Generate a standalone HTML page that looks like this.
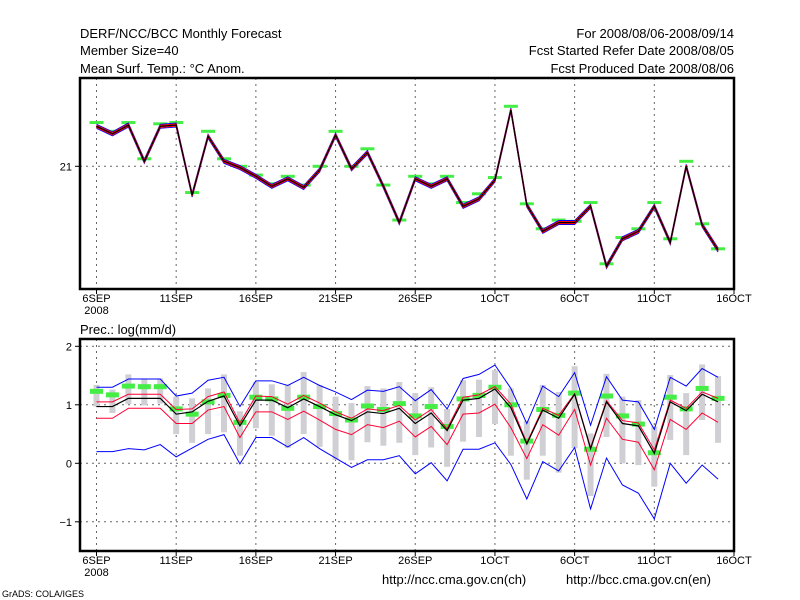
<!DOCTYPE html>
<html><head><meta charset="utf-8"><style>
body{margin:0;background:#fff;}
svg{display:block;font-family:"Liberation Sans",sans-serif;}
</style></head><body>
<svg id="chart" width="800" height="600" xmlns="http://www.w3.org/2000/svg">
<rect width="800" height="600" fill="#fff"/>
<g font-size="13" fill="#000">
<text x="80" y="38">DERF/NCC/BCC Monthly Forecast</text>
<text x="80" y="55">Member Size=40</text>
<text x="80" y="73">Mean Surf. Temp.: °C Anom.</text>
<text x="734" y="38" text-anchor="end">For 2008/08/06-2008/09/14</text>
<text x="734" y="55" text-anchor="end">Fcst Started Refer Date 2008/08/05</text>
<text x="734" y="73" text-anchor="end">Fcst Produced Date 2008/08/06</text>
<text x="80" y="334">Prec.: log(mm/d)</text>
<text x="382" y="584" font-size="13">http://ncc.cma.gov.cn(ch)</text>
<text x="566" y="584" font-size="13">http://bcc.cma.gov.cn(en)</text>
<text x="2" y="597" font-size="9">GrADS: COLA/IGES</text>
</g>
<g id="topPanel"></g>
<g id="botPanel"></g>
</svg>
<script>
const xTicks = ["6SEP","11SEP","16SEP","21SEP","26SEP","1OCT","6OCT","11OCT","16OCT"];
const tMean = [21.32,21.26,21.33,21.04,21.32,21.33,20.77,21.24,21.04,20.99,20.92,20.84,20.90,20.83,20.97,21.25,20.98,21.11,20.84,20.55,20.90,20.84,20.90,20.68,20.74,20.89,21.45,20.69,20.48,20.55,20.55,20.68,20.20,20.42,20.48,20.68,20.39,21.00,20.53,20.33];
const tObs = [21.35,21.28,21.35,21.06,21.34,21.35,20.79,21.28,21.06,21.00,20.93,20.86,20.92,20.85,21.00,21.28,21.00,21.14,20.85,20.57,20.92,20.86,20.92,20.71,20.78,20.91,21.48,20.70,20.50,20.57,20.56,20.71,20.22,20.43,20.50,20.71,20.42,21.04,20.54,20.34];
const pMean = [0.97,0.97,1.11,1.11,1.11,0.84,0.88,1.06,1.15,0.64,1.08,1.08,0.95,1.10,0.97,0.83,0.73,0.88,0.85,0.94,0.68,0.86,0.56,1.08,1.11,1.27,0.95,0.33,0.91,0.77,1.18,0.25,1.05,0.68,0.64,0.17,1.05,0.90,1.18,1.05];
const pRedHi = [1.05,1.05,1.18,1.18,1.18,0.92,0.93,1.14,1.22,0.69,1.15,1.14,1.01,1.16,1.03,0.88,0.77,0.93,0.90,0.99,0.74,0.92,0.59,1.13,1.17,1.31,1.01,0.35,0.94,0.82,1.19,0.27,1.07,0.73,0.69,0.23,1.08,0.94,1.22,1.11];
const pRedLo = [0.77,0.77,0.94,0.94,0.94,0.68,0.68,0.91,0.97,0.44,0.88,0.88,0.75,0.89,0.74,0.58,0.49,0.66,0.61,0.72,0.45,0.63,0.32,0.84,0.86,1.01,0.61,0.08,0.66,0.48,0.92,-0.03,0.77,0.41,0.36,-0.11,0.75,0.58,0.86,0.70];
const pMax = [1.30,1.30,1.44,1.44,1.44,1.15,1.20,1.42,1.47,0.97,1.41,1.41,1.33,1.47,1.33,1.22,1.09,1.25,1.23,1.31,1.07,1.26,0.93,1.45,1.52,1.68,1.28,0.68,1.32,1.14,1.55,0.65,1.48,1.08,1.05,0.58,1.47,1.32,1.62,1.47];
const pMin = [0.20,0.20,0.25,0.23,0.32,0.11,0.26,0.41,0.49,-0.01,0.44,0.44,0.28,0.44,0.25,0.09,-0.07,0.06,0.06,0.13,-0.18,0.01,-0.30,0.24,0.24,0.35,-0.02,-0.61,0.03,-0.13,0.27,-0.78,0.09,-0.37,-0.51,-0.95,0.00,-0.34,-0.03,-0.27];
const pObs = [1.23,1.17,1.32,1.31,1.31,0.93,0.84,1.05,1.16,0.70,1.13,1.10,0.94,1.13,0.97,0.85,0.74,0.98,0.92,1.02,0.81,0.97,0.63,1.10,1.16,1.30,1.00,0.38,0.92,0.82,1.20,0.24,1.15,0.81,0.67,0.18,1.13,0.93,1.28,1.11];
const pBoxHi = [1.34,1.26,1.52,1.45,1.45,1.14,1.11,1.28,1.52,0.89,1.39,1.35,1.34,1.56,1.34,1.14,1.03,1.32,1.28,1.39,1.20,1.30,0.93,1.42,1.43,1.59,1.28,0.73,1.34,1.22,1.66,0.51,1.53,1.14,1.08,0.63,1.51,1.20,1.69,1.49];
const pBoxLo = [0.97,0.86,1.01,0.99,1.02,0.50,0.35,0.50,0.53,0.13,0.60,0.47,0.26,0.50,0.28,0.06,0.05,0.36,0.30,0.35,0.14,0.27,-0.06,0.37,0.45,0.67,0.13,-0.28,0.13,-0.16,0.26,-0.56,0.45,0.00,-0.03,-0.40,0.40,0.14,0.74,0.35];
const pYTicks = [-1,0,1,2];

const NS="http://www.w3.org/2000/svg";
const X0=80,X1=734;
const xs=d=>96.5+d*(734-96.5)/40;
const yT=v=>166.3-(v-21)*125;
const yP=v=>463.3-v*58.5;
function mk(parent,tag,attrs){const e=document.createElementNS(NS,tag);for(const k in attrs)e.setAttribute(k,attrs[k]);parent.appendChild(e);return e;}
const gTop=document.getElementById('topPanel'),gBot=document.getElementById('botPanel');

function frame(g,y0,y1,pref){
  xTicks.forEach((t,i)=>{
    const x=xs(i*5);
    const gl=mk(g,'line',{x1:x,x2:x,y1:y0,y2:y1,stroke:'#666','stroke-dasharray':'2,4'});
    
    
    const tk=mk(g,'line',{x1:x,x2:x,y1:y1,y2:y1+5,stroke:'#000'});
    
    
    const tx=mk(g,'text',{x:x,y:y1+13,'font-size':'11','text-anchor':'middle'});
    tx.textContent=t;
    
    
  });
  const yr=mk(g,'text',{x:xs(0),y:y1+25,'font-size':'11','text-anchor':'middle'});
  yr.textContent='2008';
  
  
}
function poly(g,arr,yf,color,w,off,name){
  const p=mk(g,'polyline',{points:arr.map((v,i)=>xs(i)+','+(yf(v)+off)).join(' '),fill:'none',stroke:color,'stroke-width':w});
  
  
}
// top panel
frame(gTop,78,289,'temp');
const hg=mk(gTop,'line',{x1:X0,x2:X1,y1:yT(21),y2:yT(21),stroke:'#666','stroke-dasharray':'2,4'});


mk(gTop,'line',{x1:X0-5,x2:X0,y1:yT(21),y2:yT(21),stroke:'#000'});
const t21=mk(gTop,'text',{x:72,y:yT(21)+4,'font-size':'11','text-anchor':'end'});
t21.textContent='21';


tObs.forEach((v,i)=>{
  const r=mk(gTop,'rect',{x:xs(i)-7,y:yT(v)-1.5,width:14,height:3,fill:'#44ee44'});
  
  
});
poly(gTop,tMean,yT,'#0000ff',1,-2,'temp-member-max-line');
poly(gTop,tMean,yT,'#0000ff',1,2,'temp-member-min-line');
poly(gTop,tMean,yT,'#ff0000',1.2,-1,'temp-upper-line');
poly(gTop,tMean,yT,'#ff0000',1.2,1,'temp-lower-line');
poly(gTop,tMean,yT,'#000',1.2,0,'temp-mean-line');
mk(gTop,'rect',{x:X0,y:78,width:X1-X0,height:211,fill:'none',stroke:'#000','stroke-width':2.5});

// bottom panel
frame(gBot,339,551,'prec');
pYTicks.forEach(v=>{
  const l=mk(gBot,'line',{x1:X0,x2:X1,y1:yP(v),y2:yP(v),stroke:'#666','stroke-dasharray':'2,4'});
  
  
  mk(gBot,'line',{x1:X0-5,x2:X0,y1:yP(v),y2:yP(v),stroke:'#000'});
  const t=mk(gBot,'text',{x:72,y:yP(v)+4,'font-size':'11','text-anchor':'end'});
  t.textContent=String(v).replace('-','−');
  
  
});
pBoxHi.forEach((v,i)=>{
  const r=mk(gBot,'rect',{x:xs(i)-3,y:yP(v),width:6,height:yP(pBoxLo[i])-yP(v),fill:'#d0d0d4'});
  
  
});
pObs.forEach((v,i)=>{
  const r=mk(gBot,'rect',{x:xs(i)-6.5,y:yP(v)-2.5,width:13,height:5,fill:'#44ee44'});
  
  
});
poly(gBot,pMax,yP,'#0000ff',1,0,'prec-max-line');
poly(gBot,pMin,yP,'#0000ff',1,0,'prec-min-line');
poly(gBot,pRedHi,yP,'#ff0033',1,0,'prec-upper-line');
poly(gBot,pRedLo,yP,'#ff0033',1,0,'prec-lower-line');
poly(gBot,pMean,yP,'#000',1.2,0,'prec-mean-line');
mk(gBot,'rect',{x:X0,y:339,width:X1-X0,height:212,fill:'none',stroke:'#000','stroke-width':2.5});
</script>
</body></html>
